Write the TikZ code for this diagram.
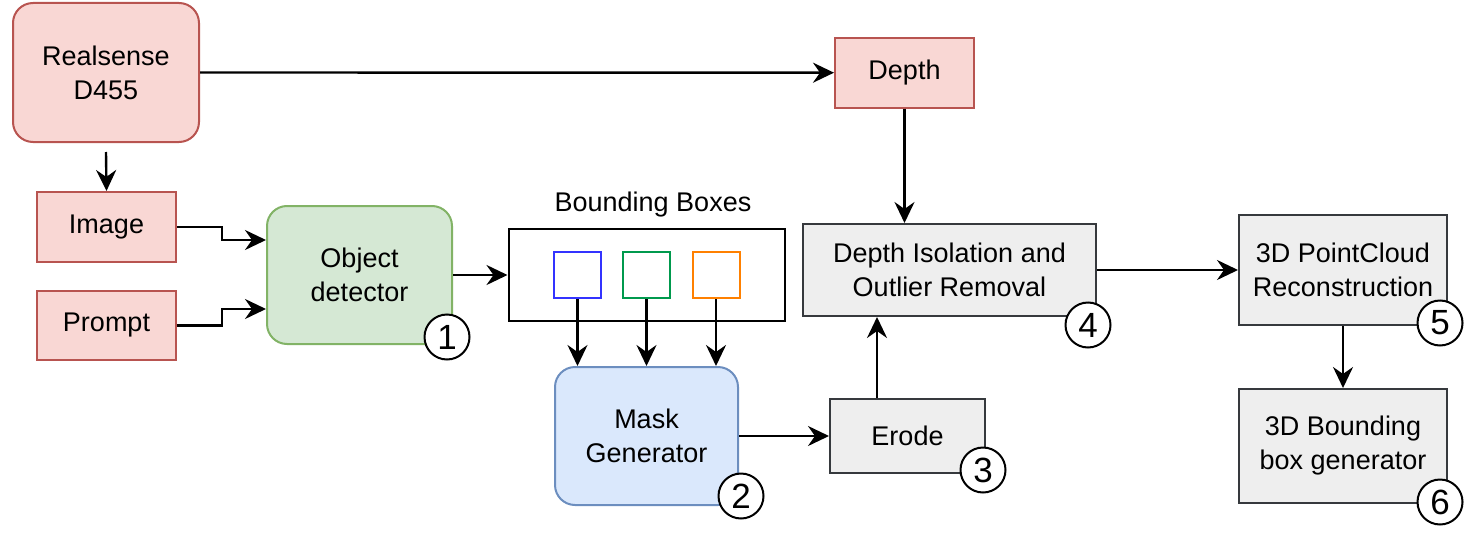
\documentclass[tikz,border=0pt]{standalone}
\usepackage{fontspec}
\setmainfont{Liberation Sans}
\usetikzlibrary{arrows.meta}
\definecolor{redfill}{HTML}{F9D7D4}
\definecolor{redline}{HTML}{B85450}
\definecolor{greenfill}{HTML}{D5E8D4}
\definecolor{greenline}{HTML}{82B366}
\definecolor{bluefill}{HTML}{DAE8FC}
\definecolor{blueline}{HTML}{6C8EBF}
\definecolor{grayfill}{HTML}{EEEEEE}
\definecolor{grayline}{HTML}{36393D}
\definecolor{sbblue}{HTML}{3333FF}
\definecolor{sbgreen}{HTML}{00994D}
\definecolor{sborange}{HTML}{FF8000}
\tikzset{
  base/.style={draw, line width=2pt, align=center, inner sep=0pt,
    font=\fontsize{27}{34}\selectfont},
  redbox/.style={base, draw=redline, fill=redfill},
  greenbox/.style={base, draw=greenline, fill=greenfill, rounded corners=20pt},
  bluebox/.style={base, draw=blueline, fill=bluefill, rounded corners=20pt},
  graybox/.style={base, draw=grayline, fill=grayfill},
  smallbox/.style={draw, line width=2pt, minimum width=47pt, minimum height=46pt, fill=white},
  numc/.style={circle, draw=black, line width=2pt, fill=white, minimum size=45pt,
    inner sep=0pt, font=\fontsize{35}{35}\selectfont},
  arr/.style={line width=2.4pt, -{Stealth[length=21pt, width=20pt, inset=7pt]}},
}
\begin{document}
\begin{tikzpicture}[x=1pt, y=-1pt]
\useasboundingbox (0,0) rectangle (1471,535);

% nodes
\node[redbox, rounded corners=20pt, minimum width=186pt, minimum height=139pt] (rs) at (106,72.5) {Realsense\\D455};
\node[redbox, minimum width=139pt, minimum height=70pt] (img) at (106.5,227) {Image};
\node[redbox, minimum width=139pt, minimum height=69pt] (prm) at (106.5,325.5) {Prompt};
\node[greenbox, minimum width=185pt, minimum height=138pt] (od) at (359.5,275) {Object\\detector};
\node[numc] (c1) at (447,337) {1};

\node[draw, line width=2pt, minimum width=276pt, minimum height=92pt, fill=white] (bb) at (646.5,275) {};
\node[font=\fontsize{27}{34}\selectfont] (bbl) at (653,205) {Bounding Boxes};
\node[smallbox, draw=sbblue] (sb1) at (577.5,275) {};
\node[smallbox, draw=sbgreen] (sb2) at (646.5,275) {};
\node[smallbox, draw=sborange] (sb3) at (716,275) {};

\node[bluebox, minimum width=183pt, minimum height=138pt] (mg) at (646.5,436) {Mask\\Generator};
\node[numc] (c2) at (741,496) {2};

\node[graybox, minimum width=155pt, minimum height=74pt] (er) at (907.5,436) {Erode};
\node[numc] (c3) at (983,470) {3};

\node[redbox, minimum width=139pt, minimum height=70pt] (dp) at (904.5,72.7) {Depth};

\node[graybox, minimum width=293pt, minimum height=92pt] (di) at (949.5,270) {Depth Isolation and\\Outlier Removal};
\node[numc] (c4) at (1088,325) {4};

\node[graybox, minimum width=208pt, minimum height=110pt] (pc) at (1343,270) {3D PointCloud\\Reconstruction};
\node[numc] (c5) at (1440,323) {5};

\node[graybox, minimum width=208pt, minimum height=114pt] (bg) at (1343,446) {3D Bounding\\box generator};
\node[numc] (c6) at (1440,502) {6};

% connectors
\draw[arr] (rs.east) -- (dp.west);
\draw[arr] ([yshift=-9pt]rs.south) -- (img.north);
\draw[arr] (img.east) -- ++(45,0) |- ([yshift=35pt]od.west);
\draw[arr] (prm.east) -- ++(45,0) |- ([yshift=-34pt]od.west);
\draw[arr] (od.east) -- (bb.west);
\draw[arr] (sb1.south) -- (sb1.south |- mg.north);
\draw[arr] (sb2.south) -- (sb2.south |- mg.north);
\draw[arr] (sb3.south) -- (sb3.south |- mg.north);
\draw[arr] (mg.east) -- (er.west);
\draw[arr] ([xshift=-30.5pt]er.north) -- ([xshift=-30.5pt]er.north |- di.south);
\draw[arr] (dp.south) -- (dp.south |- di.north);
\draw[arr] (di.east) -- (pc.west);
\draw[arr] (pc.south) -- (bg.north);
\end{tikzpicture}
\end{document}
